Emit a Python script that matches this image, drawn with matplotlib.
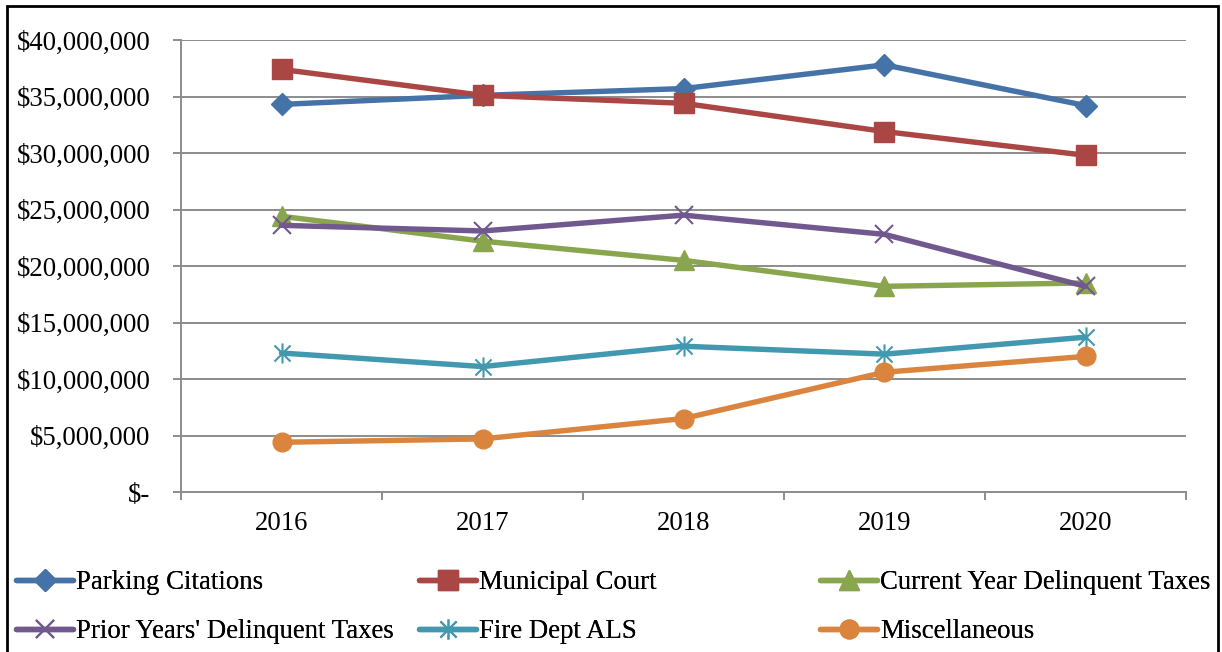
import matplotlib.pyplot as plt
import numpy as np
from matplotlib.path import Path
from matplotlib.patches import Rectangle
from matplotlib.ticker import FuncFormatter

plt.rcParams['font.family'] = ['Liberation Serif', 'DejaVu Serif']

years = ['2016', '2017', '2018', '2019', '2020']

parking = [34.3e6, 35.1e6, 35.7e6, 37.8e6, 34.2e6]
municipal = [37.4e6, 35.1e6, 34.4e6, 31.9e6, 29.8e6]
current_delinq = [24.4e6, 22.2e6, 20.5e6, 18.2e6, 18.5e6]
prior_delinq = [23.6e6, 23.1e6, 24.5e6, 22.8e6, 18.2e6]
fire_als = [12.3e6, 11.1e6, 12.9e6, 12.2e6, 13.7e6]
misc = [4.4e6, 4.7e6, 6.5e6, 10.6e6, 12.0e6]

# excel-style asterisk: vertical bar plus an X
star = Path([(0, -1), (0, 1), (-0.8, -0.8), (0.8, 0.8), (-0.8, 0.8), (0.8, -0.8)],
            [Path.MOVETO, Path.LINETO, Path.MOVETO, Path.LINETO, Path.MOVETO, Path.LINETO])

series = [
    ('Parking Citations', parking, '#4572A7', 'D', 11, 0),
    ('Municipal Court', municipal, '#AA4643', 's', 14, 0),
    ('Current Year Delinquent Taxes', current_delinq, '#89A54E', '^', 14, 0),
    ("Prior Years' Delinquent Taxes", prior_delinq, '#71588F', 'x', 13.5, 1.5),
    ('Fire Dept ALS', fire_als, '#4198AF', star, 14.5, 1.5),
    ('Miscellaneous', misc, '#DB843D', 'o', 13.5, 0),
]

fs = 19.3

fig = plt.figure(figsize=(12.22, 6.52), dpi=100)
ax = fig.add_axes([181 / 1222, 1 - 492 / 652, (1186 - 181) / 1222, (492 - 40) / 652])

x = np.arange(len(years))
handles = []
for name, vals, col, mk, ms, mew in series:
    if mew:
        h, = ax.plot(x, vals, color=col, lw=3.9, marker=mk, ms=ms,
                     mec=col, mfc='none', mew=mew, label=name, solid_capstyle='round')
    else:
        h, = ax.plot(x, vals, color=col, lw=3.9, marker=mk, ms=ms,
                     mec=col, mfc=col, label=name, solid_capstyle='round')
    handles.append(h)

ax.set_xlim(-0.5, 4.5)
ax.set_ylim(0, 40e6)
ax.set_yticks(np.arange(0, 40e6 + 1, 5e6))
ax.yaxis.set_major_formatter(FuncFormatter(lambda v, p: '$-' if v == 0 else '${:,.0f}'.format(v)))
ax.set_xticks(x)
ax.set_xticklabels(years)
ax.set_xticks(np.arange(-0.5, 5, 1), minor=True)

ax.grid(axis='y', color='#8c8c8c', lw=1.4)
ax.set_axisbelow(True)
for s in ['top', 'right']:
    ax.spines[s].set_visible(False)
for s in ['left', 'bottom']:
    ax.spines[s].set_color('#8c8c8c')
    ax.spines[s].set_linewidth(1.4)

ax.tick_params(axis='y', length=6, width=1.4, color='#8c8c8c', pad=16, labelsize=fs)
ax.tick_params(axis='x', which='major', length=0, pad=14, labelsize=fs)
ax.tick_params(axis='x', which='minor', length=6, width=1.4, color='#8c8c8c')

# legend: three fixed-width columns like excel
col_x = [16 / 1222, 419 / 1222, 820 / 1222]
for i in range(3):
    leg = fig.legend([handles[i], handles[i + 3]],
                     [series[i][0], series[i + 3][0]],
                     loc='center left', bbox_to_anchor=(col_x[i], 1 - 607 / 652),
                     frameon=False, fontsize=fs, handlelength=2.13,
                     handletextpad=0.11, labelspacing=0.9, borderpad=0,
                     borderaxespad=0, numpoints=1)
    fig.add_artist(leg)

# outer chart frame (bottom edge falls just outside the image)
fig.add_artist(Rectangle((7 / 1222, -4 / 652), 1211 / 1222, 650 / 652,
                         transform=fig.transFigure, fill=False,
                         edgecolor='black', lw=2))

fig.savefig('out.png', dpi=100)
